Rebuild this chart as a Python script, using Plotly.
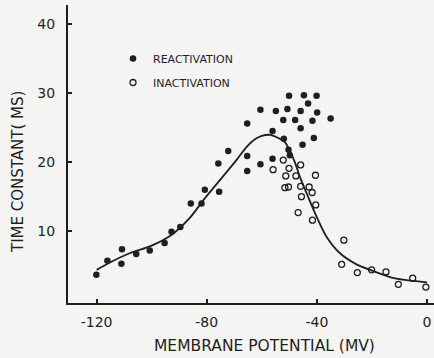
import plotly.graph_objects as go

# Reactivation (filled circles): membrane potential (mV), time constant (ms)
react_v = [-120.1, -116.1, -111.0, -110.8, -105.6, -100.7, -95.3, -92.8, -89.6, -85.8,
           -81.9, -80.7, -75.5, -75.8, -72.2, -65.3, -65.3, -65.3, -60.5, -60.5,
           -56.1, -54.9, -56.1, -52.2, -52.0, -50.7, -50.1, -50.3, -49.8, -47.9,
           -45.9, -45.9, -45.2, -44.7, -43.2, -41.6, -41.1, -40.1, -39.9, -35.0]
react_tau = [3.7, 5.7, 5.3, 7.4, 6.7, 7.2, 8.3, 9.9, 10.6, 14.0,
             14.0, 16.0, 15.7, 19.8, 21.6, 25.6, 20.9, 18.7, 27.6, 19.7,
             24.5, 27.4, 20.5, 26.1, 23.4, 27.7, 29.6, 21.8, 21.0, 26.1,
             27.4, 24.9, 22.5, 29.7, 28.5, 26.0, 23.5, 29.6, 27.2, 26.3]

# Inactivation (open circles)
inact_v = [-55.9, -52.2, -51.3, -50.1, -51.6, -50.3, -47.6, -45.9, -45.9, -45.6,
           -42.8, -41.7, -40.5, -40.4, -46.8, -41.6, -30.2, -31.0, -25.3, -20.1,
           -14.9, -10.4, -5.2, -0.4]
inact_tau = [18.9, 20.3, 18.0, 19.1, 16.3, 16.4, 18.0, 19.6, 16.5, 15.0,
             16.4, 15.6, 18.1, 13.8, 12.7, 11.6, 8.7, 5.2, 4.0, 4.4,
             4.1, 2.3, 3.2, 1.9]

# Fitted curve
fit_v = [-120, -115, -108, -100, -93, -86, -81, -75, -69, -65.5, -62.5, -60, -57, -54,
         -51.6, -49.8, -48, -46.2, -43.2, -40.1, -36.5, -31.6, -25.6, -20, -12, -5, 0]
fit_tau = [4.4, 5.5, 6.8, 7.9, 9.4, 12.0, 14.6, 17.5, 20.4, 22.2, 23.3, 23.8, 23.95, 23.5,
           22.9, 21.6, 20.0, 17.9, 15.0, 12.1, 9.2, 6.8, 5.2, 4.3, 3.2, 2.8, 2.6]

x_tickvals = [-120, -80, -40, 0]
x_ticktext = ["-120", "-80", "-40", "0"]
y_tickvals = [10, 20, 30, 40]
y_ticktext = ["10", "20", "30", "40"]

INK = "#1f1f1f"
BG = "#f4f4f2"
FONT = "DejaVu Sans"

fig = go.Figure()
fig.add_trace(go.Scatter(
    x=fit_v, y=fit_tau, mode="lines", line=dict(color=INK, width=1.8, shape="spline", smoothing=0.8),
    showlegend=False, hoverinfo="skip"))
fig.add_trace(go.Scatter(
    x=react_v, y=react_tau, mode="markers", name="REACTIVATION", legendgroup="r",
    marker=dict(symbol="circle", size=6.5, color=INK, line=dict(width=0))))
fig.add_trace(go.Scatter(
    x=inact_v, y=inact_tau, mode="markers", name="INACTIVATION", legendgroup="i",
    marker=dict(symbol="circle-open", size=6, color=INK, line=dict(width=1.3, color=INK))))

fig.update_layout(
    template="none",
    width=434, height=358,
    margin=dict(l=68, r=0, t=5, b=55, autoexpand=False),
    paper_bgcolor=BG, plot_bgcolor=BG,
    font=dict(family=FONT, color=INK, size=14),
    showlegend=True,
    legend=dict(x=(113 - 68) / 366, y=(303 - 44) / 298, xanchor="left", yanchor="top",
                bgcolor="rgba(0,0,0,0)", font=dict(size=11, family=FONT, color=INK),
                itemwidth=30, traceorder="grouped", tracegroupgap=5, borderwidth=0),
    xaxis=dict(range=[-130.4, 2.55], showgrid=False, zeroline=False, automargin=False,
               showline=True, linecolor=INK, linewidth=2, mirror=False,
               ticks="inside", ticklen=4, tickwidth=1.5, tickcolor=INK,
               tickvals=x_tickvals, ticktext=x_ticktext, ticklabelstandoff=5,
               tickfont=dict(size=14, family=FONT, color=INK)),
    yaxis=dict(range=[-0.4, 42.75], showgrid=False, zeroline=False, automargin=False,
               showline=True, linecolor=INK, linewidth=2, mirror=False,
               ticks="inside", ticklen=4, tickwidth=1.5, tickcolor=INK,
               tickvals=y_tickvals, ticktext=y_ticktext, ticklabelstandoff=8,
               tickfont=dict(size=14, family=FONT, color=INK)),
    annotations=[
        dict(text="MEMBRANE POTENTIAL (MV)", xref="paper", yref="paper",
             x=(264 - 68) / 366, y=-(346 - 303) / 298, xanchor="center", yanchor="middle",
             showarrow=False, font=dict(size=15.5, family=FONT, color=INK)),
        dict(text="TIME CONSTANT( MS)", xref="paper", yref="paper",
             x=-(68 - 18) / 366, y=(303 - 172) / 298, xanchor="center", yanchor="middle",
             textangle=-90, showarrow=False, font=dict(size=15, family=FONT, color=INK)),
    ],
)

fig.write_html(
    "out.html",
    config={"displayModeBar": False},
    post_script="document.body.style.margin='0';document.body.style.overflow='hidden';",
)
